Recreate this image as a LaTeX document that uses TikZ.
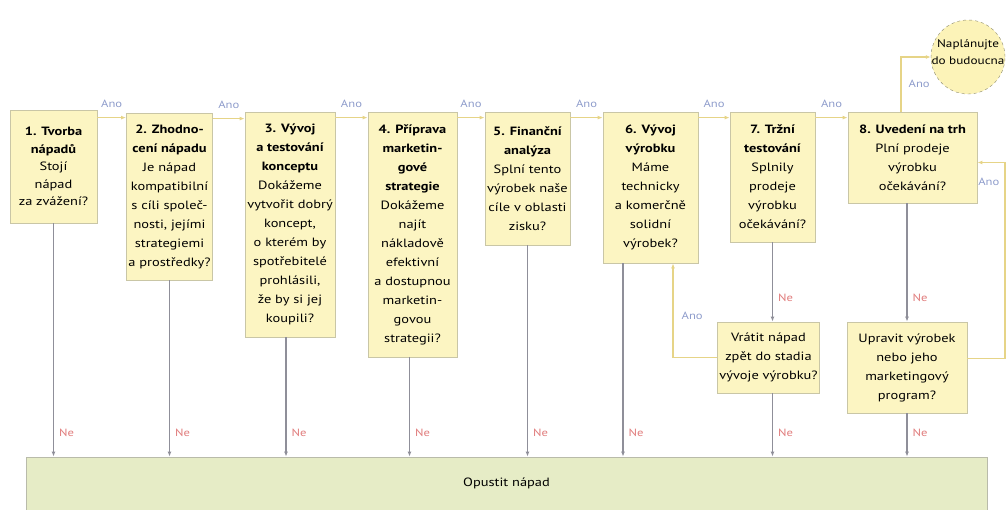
\documentclass[tikz,border=0pt]{standalone}
\usepackage{fontspec}
\setmainfont{PT Sans}[FakeStretch=1.2]
\usetikzlibrary{arrows.meta}

\definecolor{krokfill}{HTML}{FCF5C2}
\definecolor{kroklinka}{HTML}{C9C6A6}
\definecolor{opustfill}{HTML}{E6ECC6}
\definecolor{opustlinka}{HTML}{B9BBAA}
\definecolor{kruhfill}{HTML}{FCF3B8}
\definecolor{kruhlinka}{HTML}{8C8A6E}
\definecolor{anolinka}{HTML}{E6D487}
\definecolor{anotext}{HTML}{8E9CCB}
\definecolor{nelinka}{HTML}{8F8F99}
\definecolor{netext}{HTML}{E07B7B}

\begin{document}
\begin{tikzpicture}[x=1pt, y=-1pt,
        krok/.style={draw=kroklinka, fill=krokfill, line width=0.8pt, align=center, inner sep=2pt, font=\fontsize{12}{19}\selectfont},
        anosipka/.style={draw=anolinka, line width=1.3pt, -{Latex[length=5pt,width=4pt]}},
        nesipka/.style={draw=nelinka, line width=1.3pt, -{Latex[length=5pt,width=4pt]}},
        anopopis/.style={text=anotext, inner sep=2pt, font=\fontsize{10.5}{12}\selectfont},
        nepopis/.style={text=netext, inner sep=2pt, anchor=west, xshift=3pt, yshift=24pt, font=\fontsize{10.5}{12}\selectfont}]
        \useasboundingbox (0,0) rectangle (1008,510);

        % kroky
        \node[krok, minimum width=87pt, minimum height=113pt, font=\fontsize{12}{17.5}\selectfont] (tvorba) at (53.5,166.5) {\textbf{1. Tvorba}\\\textbf{nápadů}\\Stojí\\nápad\\za zvážení?};
        \node[krok, minimum width=85pt, minimum height=167pt] (zhodnoceni) at (169.5,196.5) {\textbf{2. Zhodno-}\\\textbf{cení nápadu}\\Je nápad\\kompatibilní\\s cíli společ-\\nosti, jejími\\strategiemi\\a prostředky?};
        \node[krok, minimum width=90pt, minimum height=225pt] (koncept) at (290,224.5) {\textbf{3. Vývoj}\\\textbf{a testování}\\\textbf{konceptu}\\Dokážeme\\vytvořit dobrý\\koncept,\\o kterém by\\spotřebitelé\\prohlásili,\\že by si jej\\koupili?};
        \node[krok, minimum width=89pt, minimum height=245pt] (strategie) at (412.5,234.5) {\textbf{4. Příprava}\\\textbf{marketin-}\\\textbf{gové}\\\textbf{strategie}\\Dokážeme\\najít\\nákladově\\efektivní\\a dostupnou\\marketin-\\govou\\strategii?};
        \node[krok, minimum width=85pt, minimum height=133pt] (analyza) at (527.5,178.5) {\textbf{5. Finanční}\\\textbf{analýza}\\Splní tento\\výrobek naše\\cíle v oblasti\\zisku?};
        \node[krok, minimum width=95pt, minimum height=151pt] (vyvoj) at (650.5,187.5) {\textbf{6. Vývoj}\\\textbf{výrobku}\\Máme\\technicky\\a komerčně\\solidní\\výrobek?};
        \node[krok, minimum width=85pt, minimum height=130pt] (testovani) at (772.5,177) {\textbf{7. Tržní}\\\textbf{testování}\\Splnily\\prodeje\\výrobku\\očekávání?};
        \node[krok, minimum width=129pt, minimum height=91pt] (uvedeni) at (912.5,157.5) {\textbf{8. Uvedení na trh}\\Plní prodeje\\výrobku\\očekávání?};
        \node[krok, minimum width=97pt, minimum height=71pt] (vratit) at (768.5,357.5) {Vrátit nápad\\zpět do stadia\\vývoje výrobku?};
        \node[krok, minimum width=120pt, minimum height=91pt] (upravit) at (907,367.5) {Upravit výrobek\\nebo jeho\\marketingový\\program?};
        \node[draw=opustlinka, fill=opustfill, line width=0.8pt, minimum width=961pt, minimum height=53pt, font=\fontsize{12}{14}\selectfont] (opustit) at (506.5,483.5) {Opustit nápad};
        \node[circle, draw=kruhlinka, dashed, fill=kruhfill, minimum size=74pt, inner sep=0pt] (budoucnost) at (968,57) {};
        \node[align=center, inner sep=0pt, font=\fontsize{11}{17}\selectfont] (budoucnosttext) at (968,52) {Naplánujte\\do budoucna};
        \coordinate (okraj) at (1005,0);

        % Ano
        \draw[anosipka] ([yshift=-8pt]tvorba.north east) coordinate (a1) -- (a1 -| zhodnoceni.west) node[anopopis, midway, above=7pt] {Ano};
        \draw[anosipka] ([yshift=-6pt]zhodnoceni.north east) coordinate (a2) -- (a2 -| koncept.west) node[anopopis, midway, above=7pt] {Ano};
        \draw[anosipka] ([yshift=-6pt]koncept.north east) coordinate (a3) -- (a3 -| strategie.west) node[anopopis, midway, above=7pt] {Ano};
        \draw[anosipka] ([yshift=-6pt]strategie.north east) coordinate (a4) -- (a4 -| analyza.west) node[anopopis, midway, above=7pt] {Ano};
        \draw[anosipka] ([yshift=-6pt]analyza.north east) coordinate (a5) -- (a5 -| vyvoj.west) node[anopopis, midway, above=7pt] {Ano};
        \draw[anosipka] ([yshift=-6pt]vyvoj.north east) coordinate (a6) -- (a6 -| testovani.west) node[anopopis, midway, above=7pt] {Ano};
        \draw[anosipka] ([yshift=-6pt]testovani.north east) coordinate (a7) -- (a7 -| uvedeni.west) node[anopopis, midway, above=7pt] {Ano};
        \draw[anosipka] ([xshift=-11.5pt]uvedeni.north) |- (budoucnost.west) node[anopopis, pos=0.25, right=5pt] {Ano};
        \draw[anosipka] (vratit.west) -| ([xshift=22.5pt]vyvoj.south) node[anopopis, pos=0.72, right=6pt] {Ano};
        \draw[anosipka] ([yshift=9pt]upravit.east) coordinate (a8) -- (a8 -| okraj) |- ([yshift=-5pt]uvedeni.east) node[anopopis, pos=0.45, left=3pt] {Ano};

        % Ne
        \draw[nesipka] (tvorba.south) -- (tvorba.south |- opustit.north) node[nepopis, at end] {Ne};
        \draw[nesipka] (zhodnoceni.south) -- (zhodnoceni.south |- opustit.north) node[nepopis, at end] {Ne};
        \draw[nesipka] ([xshift=-4pt]koncept.south) coordinate (n3) -- (n3 |- opustit.north) node[nepopis, at end] {Ne};
        \draw[nesipka] ([xshift=-3pt]strategie.south) coordinate (n4) -- (n4 |- opustit.north) node[nepopis, at end] {Ne};
        \draw[nesipka] (analyza.south) -- (analyza.south |- opustit.north) node[nepopis, at end] {Ne};
        \draw[nesipka] ([xshift=-27.5pt]vyvoj.south) coordinate (n6) -- (n6 |- opustit.north) node[nepopis, at end] {Ne};
        \draw[nesipka] (testovani.south) -- (testovani.south |- vratit.north) node[nepopis, at end] {Ne};
        \draw[nesipka] (vratit.south -| testovani.south) -- (testovani.south |- opustit.north) node[nepopis, at end] {Ne};
        \draw[nesipka] (upravit.north |- uvedeni.south) -- (upravit.north) node[nepopis, at end] {Ne};
        \draw[nesipka] (upravit.south) -- (upravit.south |- opustit.north) node[nepopis, at end] {Ne};
    \end{tikzpicture}
\end{document}
